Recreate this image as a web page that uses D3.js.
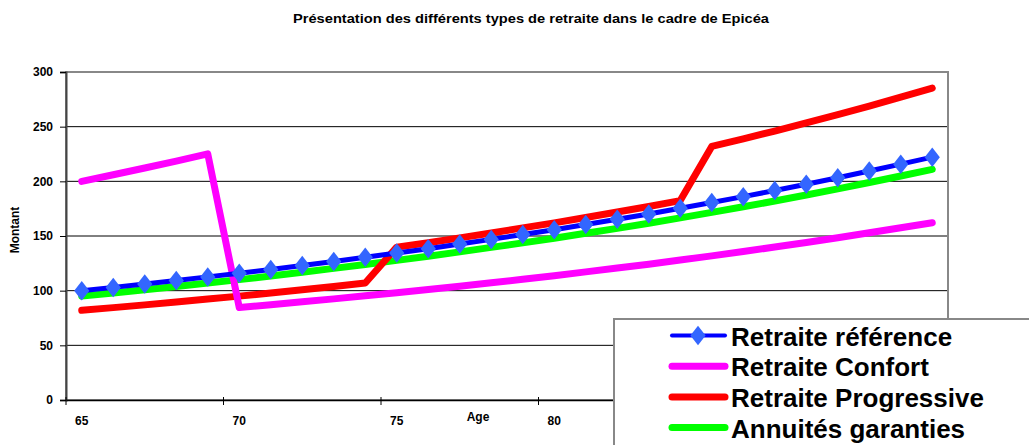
<!DOCTYPE html>
<html><head><meta charset="utf-8">
<script src="https://cdn.jsdelivr.net/npm/d3@7"></script>
<style>
html,body{margin:0;padding:0;background:#fff;}
text{font-family:"Liberation Sans",Arial,sans-serif;font-weight:bold;}
</style></head>
<body><svg id="c" width="1029" height="445"></svg>
<script>
const ages = [65,66,67,68,69,70,71,72,73,74,75,76,77,78,79,80,81,82,83,84,85,86,87,88,89,90,91,92];
const ageTickMarks = [65,70,75,80,85,90];
const ageTickLabels = [65,70,75,80];
const yTicks = [0,50,100,150,200,250,300];
const seriesNames = ["Retraite référence","Retraite Confort","Retraite Progressive","Annuités garanties"];
const retraiteReference = [100.0,103.0,106.1,109.3,112.6,115.9,119.4,123.0,126.7,130.5,134.4,138.4,142.6,146.9,151.3,155.8,160.5,165.3,170.2,175.4,180.6,186.0,191.6,197.4,203.3,209.4,215.7,222.1];
const retraiteConfort = [200.0,206.0,212.2,218.5,225.1,84.6,87.2,89.8,92.5,95.3,98.1,101.0,104.1,107.2,110.4,113.7,117.2,120.7,124.2,128.0,131.8,135.8,139.9,144.1,148.4,152.9,157.5,162.1];
const retraiteProgressive = [82.0,84.5,87.0,89.6,92.3,95.0,97.9,100.9,103.9,107.0,139.8,143.9,148.3,152.8,157.4,162.0,166.9,171.9,177.0,182.4,231.9,238.8,246.0,253.5,261.0,268.9,277.0,285.2];
const annuitesGaranties = [95.0,97.9,100.8,103.8,107.0,110.1,113.4,116.9,120.4,124.0,127.7,131.5,135.5,139.6,143.7,148.0,152.5,157.0,161.7,166.6,171.6,176.7,182.0,187.5,193.1,198.9,204.9,211.0];

const svg = d3.select("#c");
svg.append("rect").attr("width",1029).attr("height",445).attr("fill","#fff");

const L=66, R=948, T=72, B=400;
const x = d3.scaleBand().domain(ages).range([L,R]);
const y = d3.scaleLinear().domain([0,300]).range([B,T]);
const cx = a => x(a) + x.bandwidth()/2;

// title
svg.append("text").attr("x",531).attr("y",23).attr("text-anchor","middle")
  .attr("textLength",476).attr("lengthAdjust","spacingAndGlyphs")
  .style("font-size","13px").text("Présentation des différents types de retraite dans le cadre de Epicéa");

// gridlines
svg.append("g").selectAll("line").data(yTicks.filter(v=>v>0 && v<300)).join("line")
  .attr("x1",L).attr("x2",R).attr("y1",d=>y(d)).attr("y2",d=>y(d))
  .attr("stroke","#000").attr("stroke-width",1);
// frame
svg.append("rect").attr("x",L).attr("y",T).attr("width",R-L).attr("height",B-T)
  .attr("fill","none").attr("stroke","#888").attr("stroke-width",2);

// y axis
const yAxis = d3.axisLeft(y).tickValues(yTicks).tickSize(6).tickPadding(7);
const gy = svg.append("g").attr("transform",`translate(${L},0)`).call(yAxis);
gy.select(".domain").attr("stroke","#444").attr("stroke-width",2);
gy.selectAll(".tick line").attr("stroke","#000");
gy.selectAll("text").style("font-size","12px").attr("fill","#000")
  .style("font-family","'Liberation Sans',Arial,sans-serif").style("font-weight","bold");

// x axis
const xAxis = d3.axisBottom(x).tickValues(ageTickLabels).tickSize(0).tickPadding(16);
const gx = svg.append("g").attr("transform",`translate(0,${B})`).call(xAxis);
gx.select(".domain").attr("stroke","#000").attr("stroke-width",1.5);
gx.selectAll("text").style("font-size","12px").attr("fill","#000")
  .style("font-family","'Liberation Sans',Arial,sans-serif").style("font-weight","bold");
// tick marks at category boundaries every 5 categories
svg.append("g").selectAll("line").data(ageTickMarks).join("line")
  .attr("x1",d=>x(d)).attr("x2",d=>x(d)).attr("y1",B-3).attr("y2",B+5)
  .attr("stroke","#000").attr("stroke-width",1);

// axis titles
svg.append("text").attr("x",478).attr("y",421).attr("text-anchor","middle")
  .style("font-size","12px").text("Age");
svg.append("text").attr("transform","translate(19,230) rotate(-90)").attr("text-anchor","middle")
  .style("font-size","12px").text("Montant");

// lines
const line = d3.line().x((d,i)=>cx(ages[i])).y(d=>y(d));
const draw = (data,color,w) => svg.append("path").datum(data).attr("d",line)
  .attr("fill","none").attr("stroke",color).attr("stroke-width",w)
  .attr("stroke-linecap","round").attr("stroke-linejoin","round");
draw(annuitesGaranties,"#00ff00",7);
draw(retraiteProgressive,"#ff0000",7);
draw(retraiteConfort,"#ff00ff",7);
draw(retraiteReference,"#0000ff",5);
const diamond = d3.symbol().type(d3.symbolDiamond).size(110);
svg.append("g").selectAll("path").data(retraiteReference).join("path")
  .attr("d",diamond)
  .attr("transform",(d,i)=>`translate(${cx(ages[i])},${y(d)}) scale(1.35,1)`)
  .attr("fill","#3366ff");

// legend
const lg = svg.append("g");
lg.append("rect").attr("x",614).attr("y",319).attr("width",440).attr("height",150)
  .attr("fill","#fff").attr("stroke","#888").attr("stroke-width",2);
const colors = ["#0000ff","#ff00ff","#ff0000","#00ff00"];
const widths = [4,7,7,7];
seriesNames.forEach((n,i)=>{
  const yy = 335.5 + i*30.7;
  lg.append("line").attr("x1",672).attr("x2",725).attr("y1",yy).attr("y2",yy)
    .attr("stroke",colors[i]).attr("stroke-width",widths[i]).attr("stroke-linecap","round");
  if(i===0){
    lg.append("path").attr("d",diamond).attr("transform",`translate(698,${yy}) scale(1.35,1)`).attr("fill","#3366ff");
  }
  lg.append("text").attr("x",731).attr("y",yy+10).style("font-size","26px").attr("fill","#000").text(n);
});
</script></body></html>
